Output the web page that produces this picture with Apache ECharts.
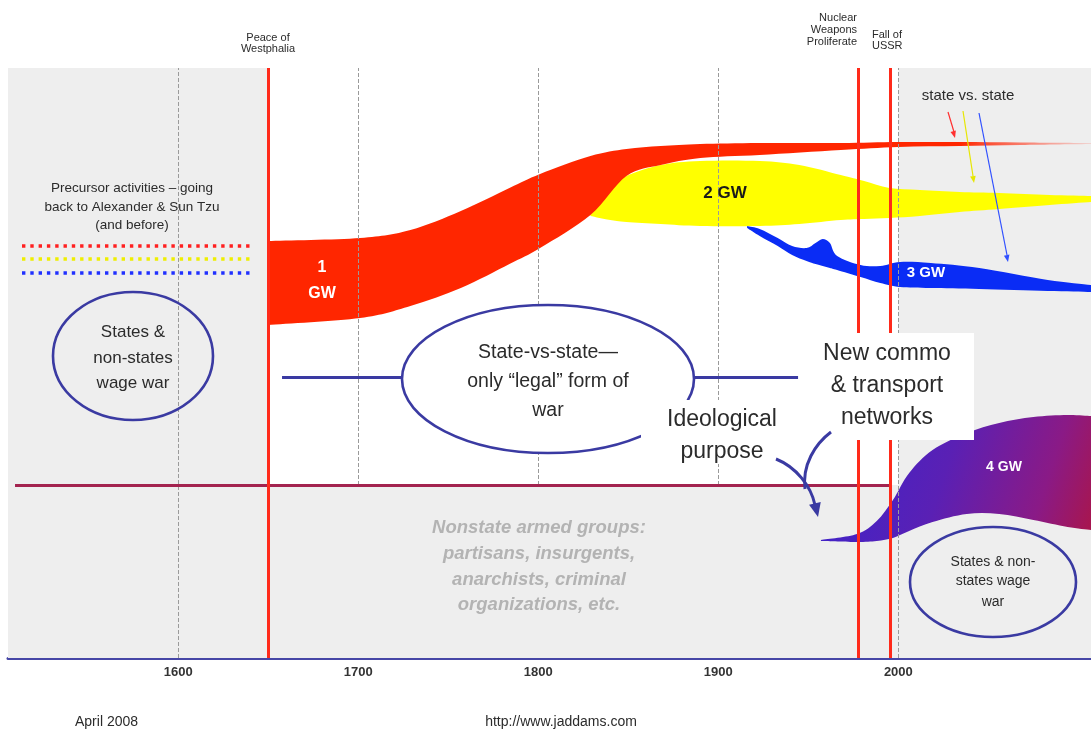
<!DOCTYPE html>
<html><head><meta charset="utf-8">
<script src="https://cdn.jsdelivr.net/npm/echarts@6/dist/echarts.min.js"></script>
<style>html,body{margin:0;padding:0;background:#fff}#c{width:1091px;height:731px}</style>
</head><body><div id="c"></div>
<script>
// ---- data (x = year, y = abstract level, 0 = axis, 59 = top of frame) ----
const TICK_YEARS = [1600, 1700, 1800, 1900, 2000];
const EVENT_YEARS = [1650, 1977.6, 1995.4];           // Westphalia, nuclear proliferation, fall of USSR

const GW1_YEARS  = [1650, 1701, 1729, 1757, 1784, 1801, 1829, 1849, 1868, 1890, 1923, 1968, 2000, 2034, 2068, 2107];
const GW1_TOP    = [41.7, 42.0, 42.8, 44.7, 47.0, 48.4, 50.2, 50.9, 51.2, 51.4, 51.5, 51.5, 51.6, 51.6, 51.55, 51.5];
const GW1_BOTTOM = [33.3, 34.0, 35.2, 37.0, 39.4, 41.0, 44.3, 48.2, 49.3, 50.0, 50.3, 50.8, 51.1, 51.2, 51.3, 51.4];

const GW2_YEARS  = [1829, 1834, 1840, 1849, 1868, 1890, 1923, 1945, 1968, 1981, 1995, 2012, 2034, 2056, 2084, 2107];
const GW2_TOP    = [44.3, 45.5, 46.9, 48.2, 49.3, 49.7, 49.7, 49.3, 48.3, 47.7, 47.0, 46.8, 46.6, 46.5, 46.3, 46.2];
const GW2_BOTTOM = [44.2, 44.0, 43.8, 43.6, 43.4, 43.2, 43.2, 43.4, 43.8, 43.9, 44.0, 44.2, 44.6, 44.9, 45.3, 45.6];

const GW3_YEARS  = [1916, 1923, 1933, 1941, 1949, 1954, 1958, 1962, 1966, 1979, 1990, 2001, 2018, 2045, 2083, 2107];
const GW3_TOP    = [43.2, 42.9, 42.0, 41.2, 41.0, 41.5, 41.9, 41.5, 40.2, 39.3, 39.2, 39.6, 39.5, 39.0, 37.8, 37.3];
const GW3_BOTTOM = [43.0, 42.2, 41.2, 40.3, 39.7, 39.4, 39.2, 39.0, 38.8, 38.1, 37.5, 37.1, 37.0, 36.9, 36.7, 36.6];

const GW4_YEARS  = [1957, 1977, 1988, 1997, 2006, 2019, 2038, 2056, 2075, 2094, 2107];
const GW4_TOP    = [11.8, 12.4, 13.7, 15.8, 18.5, 20.8, 22.5, 23.5, 24.1, 24.3, 24.2];
const GW4_BOTTOM = [11.7, 11.6, 11.7, 12.0, 12.7, 13.6, 14.4, 14.4, 13.8, 13.1, 12.8];

const STATE_LINE_LEVEL = 17.3;   // boundary between state and nonstate zones
const CONNECTOR_LEVEL = 28.1;

// ---- chart ----
const FONT = "'Liberation Sans', Arial, sans-serif";
const chart = echarts.init(document.getElementById('c'), null, {renderer: 'canvas'});

const redFade = new echarts.graphic.LinearGradient(0, 0, 1, 0, [
  {offset: 0, color: '#ff2600'}, {offset: 0.84, color: '#ff2600'}, {offset: 1, color: 'rgba(255,60,40,0.15)'}]);
const purple = new echarts.graphic.LinearGradient(0, 0.2, 1, 0.9, [
  {offset: 0, color: '#3b24cc'}, {offset: 0.45, color: '#5a20b4'}, {offset: 0.8, color: '#8a1a86'}, {offset: 1, color: '#a8164e'}]);

const BANDS = [
  {xs: GW2_YEARS, top: GW2_TOP, bottom: GW2_BOTTOM, fill: '#ffff00'},
  {xs: GW1_YEARS, top: GW1_TOP, bottom: GW1_BOTTOM, fill: redFade},
  {xs: GW3_YEARS, top: GW3_TOP, bottom: GW3_BOTTOM, fill: '#0a2cf5'},
  {xs: GW4_YEARS, top: GW4_TOP, bottom: GW4_BOTTOM, fill: purple}
];

// Catmull-Rom spline through pixel points -> SVG path commands
function spline(pts, t) {
  let d = '';
  for (let i = 0; i < pts.length - 1; i++) {
    const p0 = pts[i - 1] || pts[i], p1 = pts[i], p2 = pts[i + 1], p3 = pts[i + 2] || pts[i + 1];
    const c1x = p1[0] + (p2[0] - p0[0]) * t / 6, c1y = p1[1] + (p2[1] - p0[1]) * t / 6;
    const c2x = p2[0] - (p3[0] - p1[0]) * t / 6, c2y = p2[1] - (p3[1] - p1[1]) * t / 6;
    d += ' C' + c1x.toFixed(2) + ',' + c1y.toFixed(2) + ' ' + c2x.toFixed(2) + ',' + c2y.toFixed(2) + ' ' +
         p2[0].toFixed(2) + ',' + p2[1].toFixed(2);
  }
  return d;
}

function renderBand(params, api) {
  const b = BANDS[api.value(2)];
  const topPts = b.xs.map((x, i) => api.coord([x, b.top[i]]));
  const botPts = b.xs.map((x, i) => api.coord([x, b.bottom[i]])).reverse();
  const d = 'M' + topPts[0][0] + ',' + topPts[0][1] + spline(topPts, 1) +
            ' L' + botPts[0][0] + ',' + botPts[0][1] + spline(botPts, 1) + ' Z';
  return {type: 'path', shape: {pathData: d}, style: {fill: b.fill, stroke: null}};
}

const gridLines = TICK_YEARS.map(y => {
  const full = (y === 1600 || y === 2000);
  return [{coord: [y, full ? 0 : STATE_LINE_LEVEL]}, {coord: [y, 59]}];
});

const series = [
  {type: 'line', name: 'bg', z: 1, data: [], silent: true,
   markArea: {silent: true, itemStyle: {color: '#eeeeee'}, data: [
     [{coord: [1505.5, 0]}, {coord: [1650, 59]}],
     [{coord: [2000, 0]}, {coord: [2107, 59]}],
     [{coord: [1505.5, 0]}, {coord: [2107, STATE_LINE_LEVEL]}]
   ]},
   markLine: {silent: true, symbol: 'none', label: {show: false},
     lineStyle: {color: '#9a9a9a', width: 1, type: [4, 2]}, data: gridLines}
  },
  {type: 'line', name: 'lines', z: 2, data: [], silent: true,
   markLine: {silent: true, symbol: 'none', label: {show: false}, data: [
     [{coord: [1509.4, STATE_LINE_LEVEL], lineStyle: {color: '#a3234f', width: 3, type: 'solid'}},
      {coord: [1995.4, STATE_LINE_LEVEL]}],
     [{coord: [1657.7, CONNECTOR_LEVEL], lineStyle: {color: '#3a3aa2', width: 3, type: 'solid'}},
      {coord: [1724.3, CONNECTOR_LEVEL]}],
     [{coord: [1885.9, CONNECTOR_LEVEL], lineStyle: {color: '#3a3aa2', width: 3, type: 'solid'}},
      {coord: [1944.3, CONNECTOR_LEVEL]}]
   ]}
  },
  {type: 'custom', name: 'bands', z: 4, silent: true, clip: true, renderItem: renderBand,
   encode: {x: 0, y: 1},
   data: BANDS.map((b, i) => [b.xs[0], b.top[0], i])},
  {type: 'line', name: 'events', z: 6, data: [], silent: true,
   markLine: {silent: true, symbol: 'none', label: {show: false},
     lineStyle: {color: '#ff2a1a', width: 3, type: 'solid'},
     data: EVENT_YEARS.map(y => [{coord: [y, 0]}, {coord: [y, 59]}])}
  }
];

// ---- annotations ----
const INK = '#2b2b2b', BLUE = '#3a3aa2';
function txt(t, x, y, size, opts) {
  opts = opts || {};
  return {type: 'text', z: 30, silent: true, style: {text: t, x: x, y: y,
    font: (opts.style || 'normal') + ' ' + (opts.weight || 'normal') + ' ' + size + 'px ' + FONT,
    fill: opts.color || INK, align: opts.align || 'center', verticalAlign: 'middle'}};
}
function head(x1, y1, x2, y2, len, half, color) {
  const a = Math.atan2(y2 - y1, x2 - x1), bx = x2 - len * Math.cos(a), by = y2 - len * Math.sin(a);
  return {type: 'polygon', z: 31, silent: true, shape: {points: [[x2, y2],
    [bx + half * Math.sin(a), by - half * Math.cos(a)], [bx - half * Math.sin(a), by + half * Math.cos(a)]]},
    style: {fill: color}};
}
function seg(x1, y1, x2, y2, color, w) {
  return {type: 'line', z: 31, silent: true, shape: {x1, y1, x2, y2}, style: {stroke: color, lineWidth: w}};
}
function dotted(y, color) {
  return {type: 'line', z: 20, silent: true, shape: {x1: 22, y1: y, x2: 254, y2: y},
    style: {stroke: color, lineWidth: 3.4, lineDash: [3.4, 4.9]}};
}

const graphic = [
  {type: 'rect', z: 20, silent: true, shape: {x: 800, y: 333, width: 174, height: 107}, style: {fill: '#ffffff'}},
  {type: 'ellipse', z: 21, silent: true, shape: {cx: 133, cy: 356, rx: 80, ry: 64}, style: {fill: 'none', stroke: BLUE, lineWidth: 2.6}},
  {type: 'ellipse', z: 21, silent: true, shape: {cx: 548, cy: 379, rx: 146, ry: 74}, style: {fill: '#ffffff', stroke: BLUE, lineWidth: 2.6}},
  {type: 'ellipse', z: 21, silent: true, shape: {cx: 993, cy: 582, rx: 83, ry: 55}, style: {fill: 'none', stroke: BLUE, lineWidth: 2.6}},
  {type: 'rect', z: 22, silent: true, shape: {x: 641, y: 400, width: 150, height: 64}, style: {fill: '#ffffff'}},
  dotted(246, '#ff2020'), dotted(259, '#eeee00'), dotted(273, '#2030ff'),
  {type: 'bezierCurve', z: 31, silent: true, shape: {x1: 776, y1: 459, cpx1: 796, cpy1: 467, cpx2: 811, cpy2: 486, x2: 815, y2: 505},
   style: {stroke: BLUE, lineWidth: 3, fill: 'none'}},
  head(813, 495, 818, 517, 14, 6, BLUE),
  {type: 'bezierCurve', z: 31, silent: true, shape: {x1: 831, y1: 432, cpx1: 815, cpy1: 444, cpx2: 802, cpy2: 465, x2: 805, y2: 489},
   style: {stroke: BLUE, lineWidth: 3, fill: 'none'}},
  seg(948, 112, 954, 132, '#ff3030', 1.2), head(948, 112, 955, 138, 7, 2.8, '#ff3030'),
  seg(963, 111, 973, 176, '#e6e600', 1.2), head(963, 111, 974, 183, 7, 2.8, '#e6e600'),
  seg(979, 113, 1007, 255, '#3050ff', 1.2), head(979, 113, 1008, 262, 7, 2.8, '#3050ff'),
  txt('Peace of', 268, 38, 11), txt('Westphalia', 268, 49, 11),
  txt('Nuclear', 857, 18, 11, {align: 'right'}), txt('Weapons', 857, 30, 11, {align: 'right'}),
  txt('Proliferate', 857, 42, 11, {align: 'right'}),
  txt('Fall of', 872, 35, 11, {align: 'left'}), txt('USSR', 872, 46, 11, {align: 'left'}),
  txt('Precursor activities \u2013 going', 132, 188, 13.5),
  txt('back to Alexander & Sun Tzu', 132, 207, 13.5),
  txt('(and before)', 132, 225, 13.5),
  txt('States &', 133, 332, 17), txt('non-states', 133, 358, 17), txt('wage war', 133, 383, 17),
  txt('1', 322, 268, 16, {weight: 'bold', color: '#ffffff'}),
  txt('GW', 322, 294, 16, {weight: 'bold', color: '#ffffff'}),
  txt('2 GW', 725, 193, 17, {weight: 'bold', color: '#1a1a1a'}),
  txt('3 GW', 926, 273, 15, {weight: 'bold', color: '#ffffff'}),
  txt('4 GW', 1004, 467, 14, {weight: 'bold', color: '#ffffff'}),
  txt('state vs. state', 968, 96, 15),
  txt('State-vs-state\u2014', 548, 353, 19.5), txt('only \u201clegal\u201d form of', 548, 382, 19.5),
  txt('war', 548, 411, 19.5),
  txt('Ideological', 722, 420, 23), txt('purpose', 722, 452, 23),
  txt('New commo', 887, 354, 23), txt('& transport', 887, 386, 23), txt('networks', 887, 418, 23),
  txt('States & non-', 993, 562, 14), txt('states wage', 993, 581, 14), txt('war', 993, 602, 14),
  txt('Nonstate armed groups:', 539, 528, 18.5, {weight: 'bold', style: 'italic', color: '#b3b3b3'}),
  txt('partisans, insurgents,', 539, 554, 18.5, {weight: 'bold', style: 'italic', color: '#b3b3b3'}),
  txt('anarchists, criminal', 539, 580, 18.5, {weight: 'bold', style: 'italic', color: '#b3b3b3'}),
  txt('organizations, etc.', 539, 605, 18.5, {weight: 'bold', style: 'italic', color: '#b3b3b3'}),
  txt('April 2008', 75, 722, 14, {align: 'left'}),
  txt('http://www.jaddams.com', 561, 722, 14)
];

chart.setOption({
  animation: false,
  backgroundColor: '#ffffff',
  grid: {left: 8, right: 0, top: 68, bottom: 73, containLabel: false},
  xAxis: {type: 'value', min: 1505.5, max: 2107,
    axisLine: {show: true, onZero: false, lineStyle: {color: '#4646a6', width: 3}},
    axisTick: {show: false}, splitLine: {show: false},
    axisLabel: {customValues: TICK_YEARS, formatter: v => String(v), fontWeight: 'bold', fontSize: 13,
      color: '#333', margin: 8, fontFamily: FONT}},
  yAxis: {type: 'value', min: 0, max: 59, show: false, splitLine: {show: false}},
  series: series,
  graphic: graphic
});
</script>
</body></html>
